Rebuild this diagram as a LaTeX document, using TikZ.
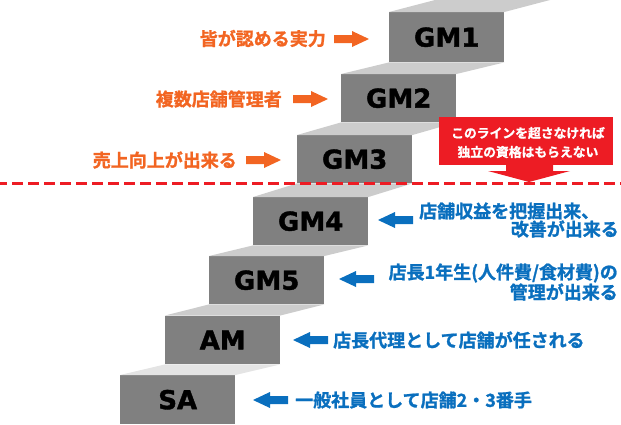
\documentclass[tikz,border=0pt]{standalone}
\usepackage{fontspec}
\newfontfamily\jp{Noto Sans CJK JP}[UprightFont=* Bold, FakeBold=1.2]
\newfontfamily\gmfont{DejaVu Sans}[UprightFont=* Bold, FakeBold=1.5]
\definecolor{boxgray}{HTML}{808080}
\definecolor{treadgray}{HTML}{CCCCCC}
\definecolor{treadlight}{HTML}{E4E4E4}
\definecolor{orangec}{HTML}{F26522}
\definecolor{bluec}{HTML}{0A6FBE}
\definecolor{redc}{HTML}{ED1C24}
\tikzset{
  stepbox/.style={fill=boxgray, draw=none, inner sep=0pt, anchor=north west,
    minimum width=115pt, font=\gmfont\fontsize{26}{26}\selectfont, text=black},
  tread/.style={fill=treadgray, draw=none},
  otext/.style={font=\jp\fontsize{18}{18}\selectfont, text=orangec, inner sep=0pt, anchor=east},
  btext/.style={font=\jp\fontsize{18}{18}\selectfont, text=bluec, inner sep=0pt},
  wtext/.style={font=\jp\fontsize{12.8}{12.8}\selectfont, text=white, inner sep=0pt},
  rarrow/.pic={\fill (0,-4) -- (18,-4) -- (18,-8) -- (35,0) -- (18,8) -- (18,4) -- (0,4) -- cycle;},
  larrow/.pic={\fill (0,0) -- (17,-8) -- (17,-4) -- (35,-4) -- (35,4) -- (17,4) -- (17,8) -- cycle;}
}
\begin{document}
\begin{tikzpicture}[x=1pt, y=-1pt]
\useasboundingbox (0,0) rectangle (621,424);
% step boxes
\node[stepbox, minimum height=50pt] (gm1) at (389,12) {};
\node[stepbox, minimum height=48pt] (gm2) at (341,74) {};
\node[stepbox, minimum height=48pt] (gm3) at (297,135) {};
\node[stepbox, minimum height=48pt] (gm4) at (253,197) {};
\node[stepbox, minimum height=48pt] (gm5) at (209,256) {};
\node[stepbox, minimum height=48.5pt] (am) at (165,315.5) {};
\node[stepbox, minimum height=49pt] (sa) at (120,375) {};
% treads
\fill[tread] (gm1.north west) -- (435,0) -- (550,0) -- (gm1.north east) -- cycle;
\fill[tread] (gm2.north west) -- (gm1.south west) -- (gm1.south east) -- (gm2.north east) -- cycle;
\fill[tread] (gm3.north west) -- (gm2.south west) -- (gm2.south east) -- (gm3.north east) -- cycle;
\fill[tread] (gm4.north west) -- (gm3.south west) -- (gm3.south east) -- (gm4.north east) -- cycle;
\fill[tread] (gm5.north west) -- (gm4.south west) -- (gm4.south east) -- (gm5.north east) -- cycle;
\fill[tread] (am.north west) -- (gm5.south west) -- (gm5.south east) -- (am.north east) -- cycle;
\fill[treadlight] (sa.north west) -- (am.south west) -- (am.south east) -- (sa.north east) -- cycle;
% labels
\node[stepbox, anchor=center, fill=none, minimum width=0pt] (gm1t) at (gm1.center) {GM1};
\node[stepbox, anchor=center, fill=none, minimum width=0pt] (gm2t) at (gm2.center) {GM2};
\node[stepbox, anchor=center, fill=none, minimum width=0pt] (gm3t) at (gm3.center) {GM3};
\node[stepbox, anchor=center, fill=none, minimum width=0pt] (gm4t) at (gm4.center) {GM4};
\node[stepbox, anchor=center, fill=none, minimum width=0pt] (gm5t) at (gm5.center) {GM5};
\node[stepbox, anchor=center, fill=none, minimum width=0pt] (amt) at (am.center) {AM};
\node[stepbox, anchor=center, fill=none, minimum width=0pt] (sat) at (sa.center) {SA};
% dashed line
\coordinate (dl) at (0,183);
\coordinate (dr) at (621,183);
\draw[redc, line width=3pt, dash pattern=on 11pt off 5pt, dash phase=3.7pt] (dl) -- (dr);
% callout
\node[fill=redc, draw=none, inner sep=0pt, anchor=north west, minimum width=174pt, minimum height=48pt] (callout) at (439,117) {};
\fill[redc] (506,164) -- (553,164) -- (553,171) -- (570,171) -- (529,182) -- (488,171) -- (506,171) -- cycle;
\node[wtext] (c1) at (528,133) {このラインを超さなければ};
\node[wtext] (c2) at (528,152) {独立の資格はもらえない};
% orange labels and arrows
\node[otext] (o1) at (326,38.5) {皆が認める実力};
\node[otext] (o2) at (282,99) {複数店舗管理者};
\node[otext] (o3) at (237,160) {売上向上が出来る};
\pic[orangec] at (334,39) {rarrow};
\pic[orangec] at (293,99) {rarrow};
\pic[orangec] at (246,160) {rarrow};
% blue labels and arrows
\node[btext, anchor=west] (b4a) at (419,211) {店舗収益を把握出来、};
\node[btext, anchor=east] (b4b) at (619,229) {改善が出来る};
\node[btext, anchor=east] (b5a) at (618,273) {店長1年生(人件費/食材費)の};
\node[btext, anchor=east] (b5b) at (618,292) {管理が出来る};
\node[btext, anchor=west] (bam) at (333,340) {店長代理として店舗が任される};
\node[btext, anchor=west] (bsa) at (295,400) {一般社員として店舗2・3番手};
\pic[bluec] at (378,220) {larrow};
\pic[bluec] at (339,279) {larrow};
\pic[bluec] at (293,340) {larrow};
\pic[bluec] at (253,400) {larrow};
\end{tikzpicture}
\end{document}
